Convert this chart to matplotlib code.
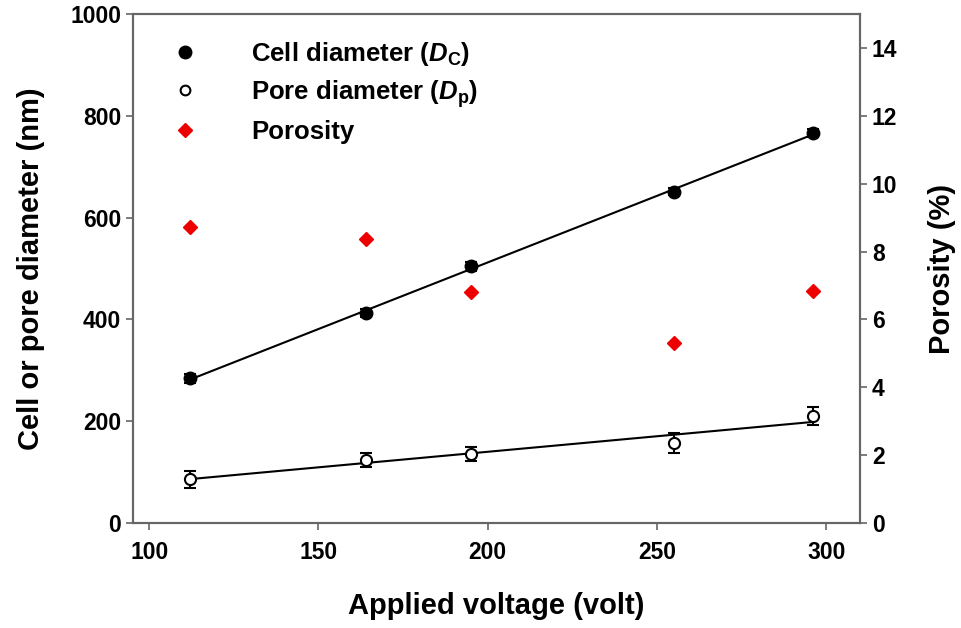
import numpy as np
import matplotlib
matplotlib.use("Agg")
import matplotlib.pyplot as plt
from matplotlib.lines import Line2D

# data
voltage = [112, 164, 195, 255, 296]
cell_d = [284, 412, 504, 651, 766]
cell_err = [8, 8, 8, 7, 8]
pore_d = [86, 124, 136, 157, 210]
pore_err = [17, 13, 14, 19, 17]
porosity = [8.72, 8.37, 6.82, 5.30, 6.85]

plt.rcParams["font.family"] = "Liberation Sans"
plt.rcParams["font.weight"] = "bold"
plt.rcParams["mathtext.fontset"] = "custom"
plt.rcParams["mathtext.rm"] = "Liberation Sans:bold"
plt.rcParams["mathtext.it"] = "Liberation Sans:italic:bold"

fig, ax = plt.subplots(figsize=(9.62, 6.28), dpi=100)
fig.subplots_adjust(left=133/962, right=860/962, top=1-14/628, bottom=1-523/628)
ax2 = ax.twinx()

# linear fits
x = np.array(voltage)
c_fit = np.polyfit(x, cell_d, 1)
p_fit = np.polyfit(x, pore_d, 1)
ax.plot(x, np.polyval(c_fit, x), color="black", lw=1.5, zorder=2)
ax.plot(x, np.polyval(p_fit, x), color="black", lw=1.5, zorder=2)

ax.errorbar(voltage, cell_d, yerr=cell_err, fmt="o", color="black",
            ms=9, capsize=4, elinewidth=1.5, capthick=1.5, zorder=3)
ax.errorbar(voltage, pore_d, yerr=pore_err, fmt="o", color="black",
            mfc="white", mec="black", mew=1.5, ms=8, capsize=4,
            elinewidth=1.5, capthick=1.5, zorder=3)
ax2.plot(voltage, porosity, "D", color="#ee0000", ms=7, ls="none")

ax.set_xlim(95.2, 310)
ax.set_ylim(0, 1000)
ax2.set_ylim(0, 15)
ax.set_xticks([100, 150, 200, 250, 300])
ax.set_yticks([0, 200, 400, 600, 800, 1000])
ax2.set_yticks([0, 2, 4, 6, 8, 10, 12, 14])

for a in (ax, ax2):
    for s in a.spines.values():
        s.set_color("#666666")
        s.set_linewidth(1.5)
    a.tick_params(labelsize=16.5, width=1.2, length=5, color="#666666")
ax.tick_params(axis="x", pad=8)

ax.set_xlabel("Applied voltage (volt)", fontsize=21, fontweight="bold", labelpad=20)
ax.set_ylabel("Cell or pore diameter (nm)", fontsize=21, fontweight="bold", labelpad=18)
ax2.set_ylabel("Porosity (%)", fontsize=21, fontweight="bold", labelpad=22)

handles = [Line2D([], [], marker="o", ls="none", color="black", ms=9),
           Line2D([], [], marker="o", ls="none", mfc="white", mec="black",
                  mew=1.5, ms=7),
           Line2D([], [], marker="D", ls="none", color="#ee0000", ms=7)]
leg = ax.legend(handles,
                [r"Cell diameter ($\mathit{D}_\mathrm{C}$)",
                 r"Pore diameter ($\mathit{D}_\mathrm{p}$)",
                 "Porosity"],
                loc="upper left", bbox_to_anchor=(0.018, 0.995), frameon=False,
                fontsize=18.5, handletextpad=2.0, labelspacing=0.4,
                handlelength=1.2)
for t in leg.get_texts():
    t.set_fontweight("bold")

fig.savefig("out.png", dpi=100)
